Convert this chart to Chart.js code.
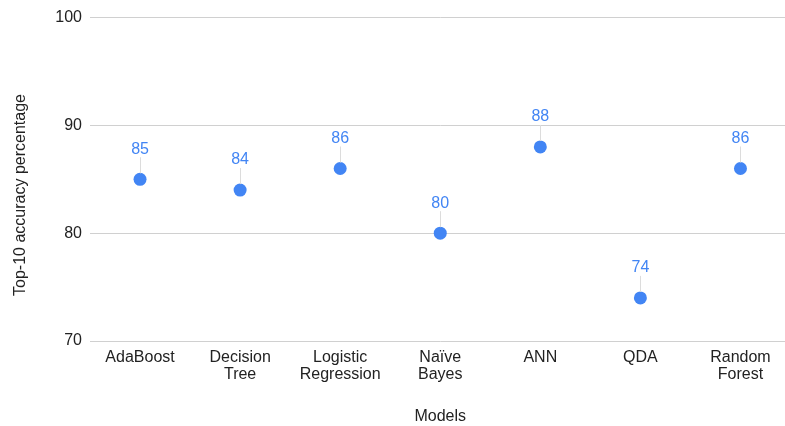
<!DOCTYPE html>
<html>
<head>
<meta charset="utf-8">
<script src="https://cdn.jsdelivr.net/npm/chart.js@4"></script>
<style>
  html, body { margin: 0; padding: 0; background: #fff; overflow: hidden; }
  #wrap { width: 797px; height: 426px; }
</style>
</head>
<body>
<div id="wrap"><canvas id="accuracyChart" width="797" height="426"></canvas></div>
<script>
// Chart data
const models = [['AdaBoost'], ['Decision', 'Tree'], ['Logistic', 'Regression'], ['Naïve', 'Bayes'], ['ANN'], ['QDA'], ['Random', 'Forest']];
const accuracy = [85, 84, 86, 80, 88, 74, 86];
const yTicks = [70, 80, 90, 100];

const FONT = '"Liberation Sans", Arial, sans-serif';
const BLUE = '#4285f4';

// value labels above each point with a thin leader line
const valueLabels = {
  id: 'valueLabels',
  afterDatasetsDraw(chart) {
    const ctx = chart.ctx;
    const meta = chart.getDatasetMeta(0);
    ctx.save();
    meta.data.forEach((pt, i) => {
      ctx.strokeStyle = '#dcdcdc';
      ctx.lineWidth = 1;
      ctx.beginPath();
      ctx.moveTo(Math.round(pt.x) + 0.5, pt.y - 6);
      ctx.lineTo(Math.round(pt.x) + 0.5, pt.y - 22);
      ctx.stroke();
      ctx.fillStyle = BLUE;
      ctx.font = '16px ' + FONT;
      ctx.textAlign = 'center';
      ctx.textBaseline = 'middle';
      ctx.fillText(String(accuracy[i]), pt.x, pt.y - 30);
    });
    ctx.restore();
  }
};

// y axis title (drawn by hand so it can sit a bit lower, like the original)
const yTitle = {
  id: 'yTitle',
  afterDraw(chart) {
    const ctx = chart.ctx;
    ctx.save();
    ctx.translate(21, 195);
    ctx.rotate(-Math.PI / 2);
    ctx.fillStyle = '#222';
    ctx.font = '16px ' + FONT;
    ctx.textAlign = 'center';
    ctx.textBaseline = 'middle';
    ctx.fillText('Top-10 accuracy percentage', 0, 0);
    ctx.restore();
  }
};

const ctx = document.getElementById('accuracyChart').getContext('2d');
new Chart(ctx, {
  type: 'line',
  data: {
    labels: models,
    datasets: [{
      data: accuracy,
      showLine: false,
      pointRadius: 6.5,
      pointHoverRadius: 6.5,
      pointBackgroundColor: BLUE,
      pointBorderColor: BLUE,
      pointBorderWidth: 0
    }]
  },
  options: {
    responsive: false,
    animation: false,
    events: [],
    layout: { padding: { top: 16, left: 0, right: 0, bottom: 0 } },
    plugins: {
      legend: { display: false },
      tooltip: { enabled: false }
    },
    scales: {
      x: {
        offset: true,
        grid: { display: false, drawTicks: false },
        border: { display: false },
        ticks: {
          color: '#222',
          font: { family: FONT, size: 16, lineHeight: 1.07 },
          padding: 8,
          maxRotation: 0,
          autoSkip: false
        },
        title: {
          display: true,
          text: 'Models',
          color: '#222',
          font: { family: FONT, size: 16 },
          padding: { top: 0, bottom: 0 }
        },
        afterFit(scale) { scale.height = 85; }
      },
      y: {
        min: 70,
        max: 100,
        afterBuildTicks(scale) { scale.ticks = yTicks.map(v => ({ value: v })); },
        grid: { color: '#d0d0d0', lineWidth: 1, drawTicks: false },
        border: { display: false },
        ticks: {
          color: '#222',
          font: { family: FONT, size: 16 },
          padding: 8
        },
        afterFit(scale) { scale.width = 90; }
      }
    }
  },
  plugins: [valueLabels, yTitle]
});
</script>
</body>
</html>
